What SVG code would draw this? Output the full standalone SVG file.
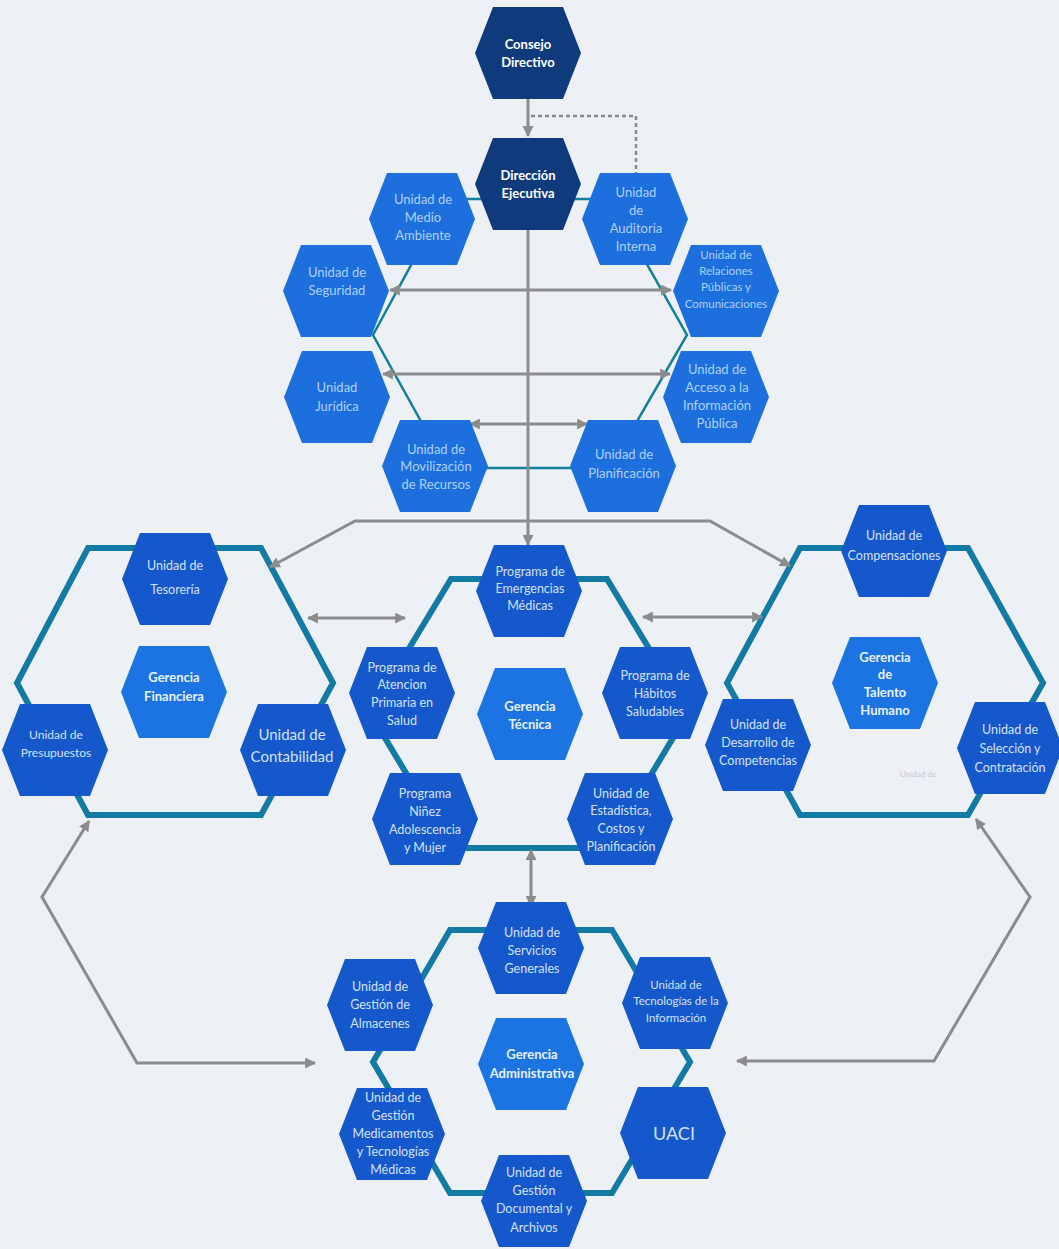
<svg xmlns="http://www.w3.org/2000/svg" xmlns:xlink="http://www.w3.org/1999/xlink" width="1059" height="1249" viewBox="0 0 1059 1249">
<style>
.bg{fill:#edf0f5}
.dk{fill:#0f3b7c}
.tu{fill:#1c6fdd}
.cu{fill:#1558cb}
.gr{fill:#1b74e2}
.ring{fill:none;stroke:#137aa3;stroke-width:6;stroke-linejoin:miter}
.thin{fill:none;stroke:#13809a;stroke-width:2.5}
.ar{fill:none;stroke:#8c8c8c;stroke-width:3}
.dash{fill:none;stroke:#8c8c8c;stroke-width:2.5;stroke-dasharray:4 3}
text{font-family:Lato,"Liberation Sans",sans-serif;text-anchor:middle}
.tw{fill:#ffffff;font-size:13px;font-weight:bold}
.tt{fill:#aed0f7;font-size:13px}
.tc{fill:#d3e0f7;font-size:12.5px}
.tg{fill:#e8f1ff;font-size:13px;font-weight:bold}
</style>
<defs>
<path id="hx" d="M-53,0 L-35,-46 L35,-46 L53,0 L35,46 L-35,46 Z"/>
<marker id="ah" viewBox="0 0 10 10" refX="9" refY="5" markerWidth="11" markerHeight="11" markerUnits="userSpaceOnUse" orient="auto-start-reverse">
<path d="M0,0 L10,5 L0,10 Z" fill="#8c8c8c"/>
</marker>
</defs>
<rect class="bg" x="0" y="0" width="1059" height="1249"/>
<g id="rings">
<path class="thin" d="M447,199 L610,199 L687,335 L610,468 L447,468 L373,335 Z"/>
<path class="ring" d="M88,548 L261,548 L333,683 L261,815 L88,815 L17,683 Z"/>
<path class="ring" d="M451,579 L607,579 L688,713 L607,848 L451,848 L370,713 Z"/>
<path class="ring" d="M800,548 L968,548 L1043,683 L968,815 L800,815 L727,683 Z"/>
<path class="ring" d="M450,930 L612,930 L690,1062 L612,1193 L450,1193 L373,1062 Z"/>
</g>
<g id="connectors">
<path class="ar" d="M528,99 L528,136" marker-end="url(#ah)"/>
<path class="dash" d="M531,116 L636,116 L636,173"/>
<path class="ar" d="M528,230 L528,545" marker-end="url(#ah)"/>
<path class="ar" d="M390,290 L671,290" marker-start="url(#ah)" marker-end="url(#ah)"/>
<path class="ar" d="M383,374 L670,374" marker-start="url(#ah)" marker-end="url(#ah)"/>
<path class="ar" d="M470,424 L587,424" marker-start="url(#ah)" marker-end="url(#ah)"/>
<path class="ar" d="M270,567 L355,521 L710,521 L790,566" marker-start="url(#ah)" marker-end="url(#ah)"/>
<path class="ar" d="M308,618 L405,618" marker-start="url(#ah)" marker-end="url(#ah)"/>
<path class="ar" d="M643,617 L762,617" marker-start="url(#ah)" marker-end="url(#ah)"/>
<path class="ar" d="M531,850 L531,906" marker-start="url(#ah)" marker-end="url(#ah)"/>
<path class="ar" d="M89,821 L42,897 L137,1063 L315,1063" marker-start="url(#ah)" marker-end="url(#ah)"/>
<path class="ar" d="M976,819 L1030,897 L934,1061 L737,1061" marker-start="url(#ah)" marker-end="url(#ah)"/>
</g>
<g id="n-consejo"><use xlink:href="#hx" class="dk" transform="translate(528,53)"/>
<text class="tw" x="528" y="49">Consejo</text><text class="tw" x="528" y="67">Directivo</text></g>
<g id="n-direccion"><use xlink:href="#hx" class="dk" transform="translate(528,184)"/>
<text class="tw" x="528" y="180">Dirección</text><text class="tw" x="528" y="198">Ejecutiva</text></g>
<g id="n-medio"><use xlink:href="#hx" class="tu" transform="translate(422,219)"/>
<text class="tt" x="423" y="204">Unidad de</text><text class="tt" x="423" y="222">Medio</text><text class="tt" x="423" y="240">Ambiente</text></g>
<g id="n-auditoria"><use xlink:href="#hx" class="tu" transform="translate(635,219)"/>
<text class="tt" x="636" y="197">Unidad</text><text class="tt" x="636" y="215">de</text><text class="tt" x="636" y="233">Auditoria</text><text class="tt" x="636" y="251">Interna</text></g>
<g id="n-seguridad"><use xlink:href="#hx" class="tu" transform="translate(336,291)"/>
<text class="tt" x="337" y="277">Unidad de</text><text class="tt" x="337" y="295">Seguridad</text></g>
<g id="n-relaciones"><use xlink:href="#hx" class="tu" transform="translate(726,291)"/>
<text class="tt" style="font-size:11.5px" x="726" y="259">Unidad de</text><text class="tt" style="font-size:11.5px" x="726" y="275">Relaciones</text><text class="tt" style="font-size:11.5px" x="726" y="291">Públicas y</text><text class="tt" style="font-size:11.5px" x="726" y="308">Comunicaciones</text></g>
<g id="n-juridica"><use xlink:href="#hx" class="tu" transform="translate(337,397)"/>
<text class="tt" x="337" y="392">Unidad</text><text class="tt" x="337" y="411">Jurídica</text></g>
<g id="n-acceso"><use xlink:href="#hx" class="tu" transform="translate(716,397)"/>
<text class="tt" x="717" y="374">Unidad de</text><text class="tt" x="717" y="392">Acceso a la</text><text class="tt" x="717" y="410">Información</text><text class="tt" x="717" y="428">Pública</text></g>
<g id="n-movilizacion"><use xlink:href="#hx" class="tu" transform="translate(435,466)"/>
<text class="tt" x="436" y="454">Unidad de</text><text class="tt" x="436" y="471">Movilización</text><text class="tt" x="436" y="489">de Recursos</text></g>
<g id="n-planificacion"><use xlink:href="#hx" class="tu" transform="translate(623,466)"/>
<text class="tt" x="624" y="459">Unidad de</text><text class="tt" x="624" y="478">Planificación</text></g>
<g id="n-tesoreria"><use xlink:href="#hx" class="cu" transform="translate(175,579)"/>
<text class="tc" x="175" y="570">Unidad de</text><text class="tc" x="175" y="594">Tesorería</text></g>
<g id="n-gfinanciera"><use xlink:href="#hx" class="gr" transform="translate(174,692)"/>
<text class="tg" x="174" y="682">Gerencia</text><text class="tg" x="174" y="701">Financiera</text></g>
<g id="n-presupuestos"><use xlink:href="#hx" class="cu" transform="translate(55,750)"/>
<text class="tc" style="font-size:12px" x="56" y="739">Unidad de</text><text class="tc" style="font-size:12px" x="56" y="757">Presupuestos</text></g>
<g id="n-contabilidad"><use xlink:href="#hx" class="cu" transform="translate(293,750)"/>
<text class="tc" style="font-size:15px" x="292" y="740">Unidad de</text><text class="tc" style="font-size:15px" x="292" y="762">Contabilidad</text></g>
<g id="n-emergencias"><use xlink:href="#hx" class="cu" transform="translate(529,591)"/>
<text class="tc" x="530" y="576">Programa de</text><text class="tc" x="530" y="593">Emergencias</text><text class="tc" x="530" y="610">Médicas</text></g>
<g id="n-atencion"><use xlink:href="#hx" class="cu" transform="translate(402,693)"/>
<text class="tc" x="402" y="672">Programa de</text><text class="tc" x="402" y="689">Atencion</text><text class="tc" x="402" y="707">Primaria en</text><text class="tc" x="402" y="725">Salud</text></g>
<g id="n-gtecnica"><use xlink:href="#hx" class="gr" transform="translate(530,714)"/>
<text class="tg" x="530" y="711">Gerencia</text><text class="tg" x="530" y="729">Técnica</text></g>
<g id="n-habitos"><use xlink:href="#hx" class="cu" transform="translate(655,693)"/>
<text class="tc" x="655" y="680">Programa de</text><text class="tc" x="655" y="698">Hábitos</text><text class="tc" x="655" y="716">Saludables</text></g>
<g id="n-ninez"><use xlink:href="#hx" class="cu" transform="translate(425,819)"/>
<text class="tc" x="425" y="798">Programa</text><text class="tc" x="425" y="816">Niñez</text><text class="tc" x="425" y="834">Adolescencia</text><text class="tc" x="425" y="852">y Mujer</text></g>
<g id="n-estadistica"><use xlink:href="#hx" class="cu" transform="translate(620,819)"/>
<text class="tc" x="621" y="798">Unidad de</text><text class="tc" x="621" y="815">Estadística,</text><text class="tc" x="621" y="833">Costos y</text><text class="tc" x="621" y="851">Planificación</text></g>
<g id="n-compensaciones"><use xlink:href="#hx" class="cu" transform="translate(894,551)"/>
<text class="tc" x="894" y="540">Unidad de</text><text class="tc" x="894" y="560">Compensaciones</text></g>
<g id="n-gtalento"><use xlink:href="#hx" class="gr" transform="translate(885,683)"/>
<text class="tg" x="885" y="662">Gerencia</text><text class="tg" x="885" y="679">de</text><text class="tg" x="885" y="697">Talento</text><text class="tg" x="885" y="715">Humano</text></g>
<g id="n-desarrollo"><use xlink:href="#hx" class="cu" transform="translate(758,745)"/>
<text class="tc" x="758" y="729">Unidad de</text><text class="tc" x="758" y="747">Desarrollo de</text><text class="tc" x="758" y="765">Competencias</text></g>
<g id="n-seleccion"><use xlink:href="#hx" class="cu" transform="translate(1010,748)"/>
<text class="tc" x="1010" y="734">Unidad de</text><text class="tc" x="1010" y="753">Selección y</text><text class="tc" x="1010" y="772">Contratación</text></g>
<text x="918" y="777" style="font-size:8px;fill:#c3c9d6">Unidad de</text>
<g id="n-servicios"><use xlink:href="#hx" class="cu" transform="translate(531,948)"/>
<text class="tc" x="532" y="937">Unidad de</text><text class="tc" x="532" y="955">Servicios</text><text class="tc" x="532" y="973">Generales</text></g>
<g id="n-almacenes"><use xlink:href="#hx" class="cu" transform="translate(380,1005)"/>
<text class="tc" x="380" y="991">Unidad de</text><text class="tc" x="380" y="1009">Gestión de</text><text class="tc" x="380" y="1028">Almacenes</text></g>
<g id="n-tecnologias"><use xlink:href="#hx" class="cu" transform="translate(675,1003)"/>
<text class="tc" style="font-size:11.5px" x="676" y="989">Unidad de</text><text class="tc" style="font-size:11.5px" x="676" y="1005">Tecnologías de la</text><text class="tc" style="font-size:11.5px" x="676" y="1022">Información</text></g>
<g id="n-gadministrativa"><use xlink:href="#hx" class="gr" transform="translate(531,1064)"/>
<text class="tg" x="532" y="1059">Gerencia</text><text class="tg" x="532" y="1078">Administrativa</text></g>
<g id="n-medicamentos"><use xlink:href="#hx" class="cu" transform="translate(392,1134)"/>
<text class="tc" x="393" y="1102">Unidad de</text><text class="tc" x="393" y="1120">Gestión</text><text class="tc" x="393" y="1138">Medicamentos</text><text class="tc" x="393" y="1156">y Tecnologías</text><text class="tc" x="393" y="1174">Médicas</text></g>
<g id="n-uaci"><use xlink:href="#hx" class="cu" transform="translate(673,1133)"/>
<text class="tc" style="font-size:18px" x="674" y="1140">UACI</text></g>
<g id="n-documental"><use xlink:href="#hx" class="cu" transform="translate(534,1201)"/>
<text class="tc" x="534" y="1177">Unidad de</text><text class="tc" x="534" y="1195">Gestión</text><text class="tc" x="534" y="1213">Documental y</text><text class="tc" x="534" y="1232">Archivos</text></g>
</svg>
